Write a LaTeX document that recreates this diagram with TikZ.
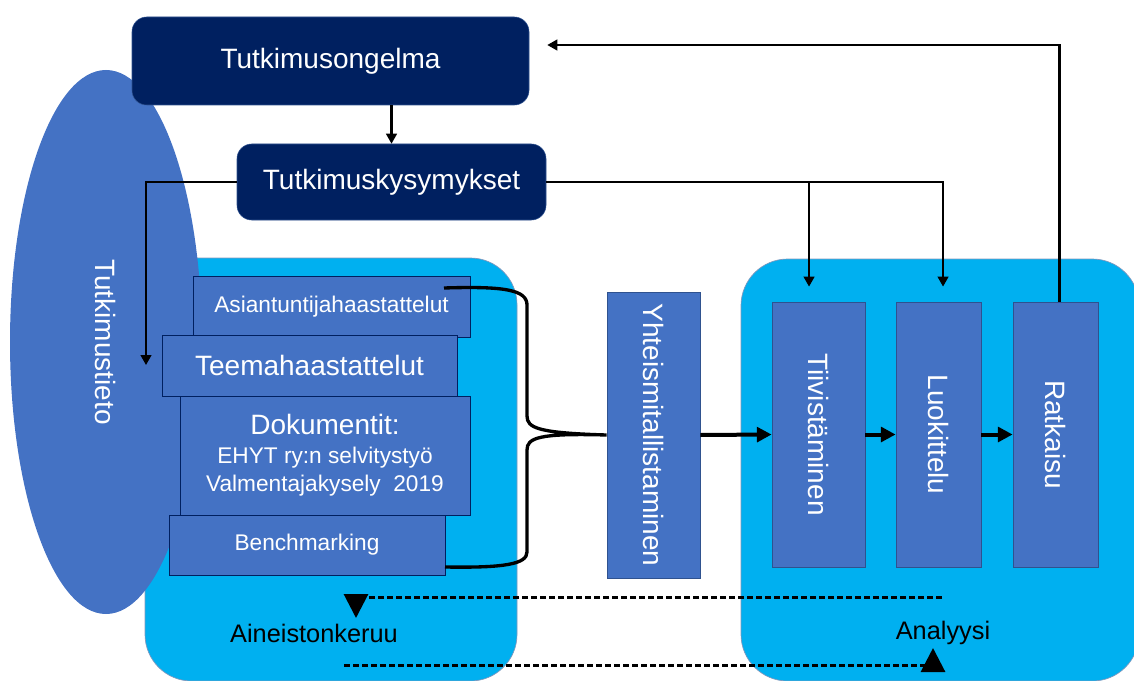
\documentclass[tikz,border=0pt]{standalone}
\usepackage{fontspec}
\setmainfont{Liberation Sans}
\usetikzlibrary{arrows.meta,shapes.geometric}
\definecolor{navy}{HTML}{002060}
\definecolor{midblue}{HTML}{4472C4}
\definecolor{edgeblue}{HTML}{2F528F}
\definecolor{skyblue}{HTML}{00B0F0}
\tikzset{
  darkbox/.style={fill=navy, draw=edgeblue, rounded corners=11pt, text=white,
    inner sep=0pt, font=\fontsize{21}{25}\selectfont},
  itembox/.style={fill=midblue, draw=navy, line width=0.7pt, text=white,
    inner sep=0pt, font=\fontsize{17}{21}\selectfont},
  phasebox/.style={fill=midblue, draw=edgeblue, line width=0.6pt, text=white,
    inner sep=0pt, font=\fontsize{21}{25}\selectfont},
  region/.style={fill=skyblue, draw=edgeblue!60, line width=0.5pt, rounded corners=35pt},
  flow/.style={-{Triangle[length=7.5pt,width=8pt]}, line width=1.6pt},
  bigflow/.style={-{Triangle[length=11pt,width=11pt]}, line width=3pt},
  backflow/.style={-{Triangle[length=18pt,width=18pt]}, line width=2.25pt,
    dash pattern=on 4.5pt off 2.25pt},
  phaselabel/.style={font=\fontsize{19}{23}\selectfont}
}
\begin{document}
\begin{tikzpicture}[x=0.75pt,y=-0.75pt]
\useasboundingbox (0,0) rectangle (1134,681);
% the two phases
\draw[region] (145,681) rectangle (517,258);
\draw[region] (741,681) rectangle (1139,259);
% background knowledge
\node[ellipse, fill=midblue, minimum width=144pt, minimum height=408pt, inner sep=0pt]
  (tieto) at (106,342) {};
\node[text=white, font=\fontsize{21}{25}\selectfont, rotate=-90] (tietolabel) at (106,342) {Tutkimustieto};
% top boxes
\node[darkbox, minimum width=297.75pt, minimum height=66pt] (ongelma) at (330.5,61) {Tutkimusongelma};
\node[darkbox, minimum width=231.75pt, minimum height=57pt] (kysymykset) at (391.5,182) {Tutkimuskysymykset};
% data collection
\node[itembox, minimum width=207.75pt, minimum height=45.75pt] (asiant) at (331.5,306.5) {Asiantuntijahaastattelut};
\node[itembox, minimum width=221.25pt, minimum height=45.75pt, font=\fontsize{21}{25}\selectfont]
  (teema) at (309.5,365.5) {Teemahaastattelut};
\node[itembox, minimum width=217.5pt, minimum height=89.25pt, align=center] (dok) at (325,455.5)
  {{\fontsize{21}{25}\selectfont Dokumentit:}\\[1pt]EHYT ry:n selvitystyö\\Valmentajakysely\ \ 2019};
\node[itembox, minimum width=207pt, minimum height=45pt] (bench) at (307,545) {Benchmarking};
% harmonising
\node[phasebox, minimum width=69.75pt, minimum height=214.5pt] (yhteis) at (653.5,435)
  {\rotatebox{-90}{Yhteismitallistaminen}};
% analysis steps
\foreach \n/\x/\w/\t in {tiiv/818.5/69.75/Tiivistäminen, luok/938.5/63.75/Luokittelu, ratk/1055.5/63.75/Ratkaisu}{%
  \node[phasebox, minimum width=\w pt, minimum height=198.75pt] (\n) at (\x,434.5) {\rotatebox{-90}{\t}};
}
\node[phaselabel] (keruu) at (314,633) {Aineistonkeruu};
\node[phaselabel] (analyysi) at (943,633) {Analyysi};
% connectors
\draw[flow] (kysymykset.north |- ongelma.south) -- (kysymykset.north);
\coordinate (tietoin) at (146,365);
\draw[flow] (kysymykset.west) -| (tietoin);
\draw[flow] (kysymykset.east) -| ([xshift=-7.1pt,yshift=11.25pt]tiiv.north);
\draw[flow] (kysymykset.east) -| ([xshift=3.4pt,yshift=11.25pt]luok.north);
\coordinate (paluu) at ([xshift=13.5pt,yshift=12pt]ongelma.east);
\draw[flow] ([xshift=3pt]ratk.north) |- (paluu);
\foreach \a/\b in {yhteis/tiiv, tiiv/luok, luok/ratk}{%
  \draw[bigflow] (\a.east) -- (\b.west);
}
% brace
\draw[line width=2.5pt] (444,288) .. controls (505,286) and (527,290) .. (527,305)
  -- (527,416) .. controls (527,428) and (538,433) .. (yhteis.west)
  .. controls (538,433) and (527,438) .. (527,450)
  -- (527,552) .. controls (527,564) and (505,568) .. (445,567);
% back and forth
\coordinate (a1) at (942,597);
\coordinate (a2) at (356,597);
\coordinate (a3) at (356,618);
\draw[backflow] (a1) -- (a2) -- (a3);
\coordinate (b1) at (344,665);
\coordinate (b2) at (933,665);
\coordinate (b3) at (933,648);
\draw[backflow] (b1) -- (b2) -- (b3);
\end{tikzpicture}
\end{document}
